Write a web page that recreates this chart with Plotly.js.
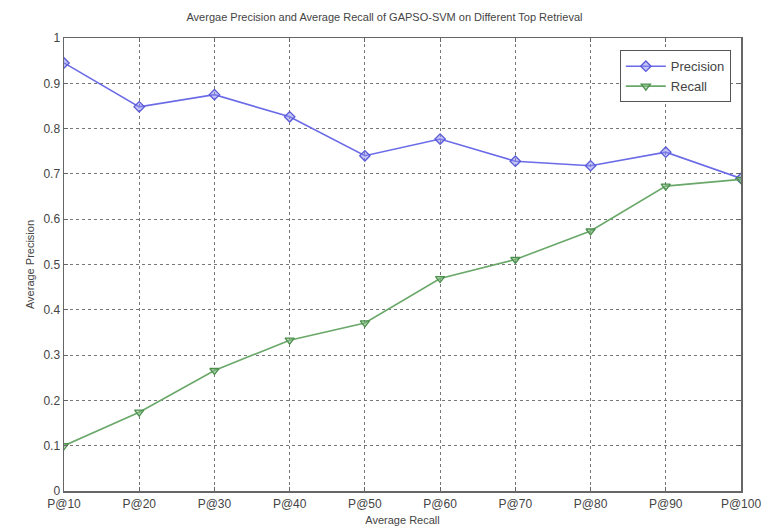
<!DOCTYPE html>
<html>
<head>
<meta charset="utf-8">
<script src="https://cdn.plot.ly/plotly-3.0.1.min.js"></script>
<style>html,body{margin:0;padding:0;background:#fff;}#chart{width:769px;height:531px;}</style>
</head>
<body>
<div id="chart"></div>
<script>
const categories = ["P@10","P@20","P@30","P@40","P@50","P@60","P@70","P@80","P@90","P@100"];
const precision = [0.945, 0.848, 0.875, 0.826, 0.74, 0.777, 0.728, 0.718, 0.748, 0.69];
const recall = [0.10, 0.174, 0.266, 0.333, 0.371, 0.469, 0.511, 0.574, 0.673, 0.688];
const yTicks = [0,0.1,0.2,0.3,0.4,0.5,0.6,0.7,0.8,0.9,1];
const yTickText = ["0","0.1","0.2","0.3","0.4","0.5","0.6","0.7","0.8","0.9","1"];

const traces = [
  {x: categories, y: precision, name: "Precision", type: "scatter", mode: "lines+markers",
   line: {color: "#6b6be8", width: 1.6},
   marker: {symbol: "diamond", size: 8, color: "rgba(140,140,240,0.5)", line: {color: "#5a5ad8", width: 1.3}}},
  {x: categories, y: recall, name: "Recall", type: "scatter", mode: "lines+markers",
   line: {color: "#6aa86a", width: 1.6},
   marker: {symbol: "triangle-down", size: 8, color: "rgba(130,190,130,0.5)", line: {color: "#4d8f4d", width: 1.3}}}
];

const axisCommon = {
  showline: true, linecolor: "#666", linewidth: 1.5, mirror: "allticks",
  ticks: "inside", ticklen: 4, tickcolor: "#666",
  showgrid: true, gridcolor: "#777", griddash: "dot", gridwidth: 1,
  zeroline: false,
  tickfont: {family: "Liberation Sans, Arial, sans-serif", size: 12, color: "#444"}
};

const layout = {
  width: 769, height: 531,
  margin: {l: 64, r: 28, t: 38, b: 40},
  paper_bgcolor: "#fff", plot_bgcolor: "#fff",
  title: {text: "Avergae Precision and Average Recall of GAPSO-SVM on Different Top Retrieval",
          x: 0.5, xanchor: "center", y: 0.968, yanchor: "middle",
          font: {family: "Liberation Sans, Arial, sans-serif", size: 11, color: "#444"}},
  xaxis: Object.assign({}, axisCommon, {
    type: "category", range: [0, 9], ticklabelstandoff: 1,
    title: {text: "Average Recall", standoff: 6, font: {family: "Liberation Sans, Arial, sans-serif", size: 11, color: "#444"}}
  }),
  yaxis: Object.assign({}, axisCommon, {
    range: [0, 1], tickvals: yTicks, ticktext: yTickText,
    title: {text: "Average Precision", standoff: 6, font: {family: "Liberation Sans, Arial, sans-serif", size: 11, color: "#444"}}
  }),
  legend: {x: 0.985, xanchor: "right", y: 0.973, yanchor: "top",
           bgcolor: "#fff", bordercolor: "#555", borderwidth: 1,
           itemwidth: 40, tracegroupgap: 4,
           font: {family: "Liberation Sans, Arial, sans-serif", size: 13, color: "#444"}},
  showlegend: true
};

Plotly.newPlot("chart", traces, layout, {displayModeBar: false, staticPlot: true});
</script>
</body>
</html>
